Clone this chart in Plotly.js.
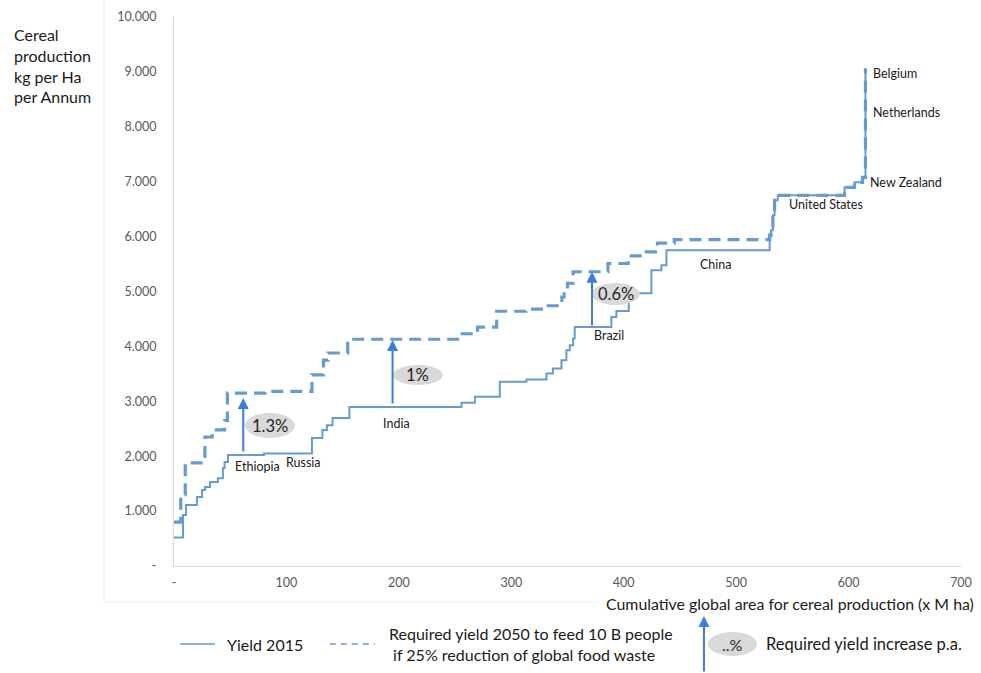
<!DOCTYPE html>
<html>
<head>
<meta charset="utf-8">
<script src="https://cdn.plot.ly/plotly-3.0.1.min.js"></script>
<style>html,body{margin:0;padding:0;background:#fff;}#chart{width:981px;height:673px;}</style>
</head>
<body>
<div id="chart"></div>
<script>
// Yield 2015 (step line): cumulative area (M ha) and yield (kg/ha)
var yieldX = [0, 8, 10.7, 20.4, 25, 27.6, 32, 39, 43.5, 45, 48, 80, 122.7, 132, 136, 141, 156, 255.7, 267.6, 289.8, 313.5, 331.3, 337, 344.6, 349, 352, 355, 356.4, 389, 393.5, 404.5, 424.6, 433.5, 438, 529.8, 531, 532.7, 534.2, 537, 596.4, 605.3, 612.4, 615];
var yieldY = [520, 930, 1110, 1256, 1383, 1438, 1529, 1600, 1784, 1893, 2020, 2050, 2330, 2475, 2566, 2694, 2894, 2972, 3082, 3355, 3398, 3507, 3598, 3749, 3931, 4022, 4144, 4355, 4537, 4646, 4969, 5387, 5478, 5751, 6024, 6115, 6388, 6661, 6752, 6898, 6989, 7080, 9064];
// Required yield 2050
var reqX = [0, 6, 10, 27.5, 34, 45, 47.5, 81, 122.7, 133, 137, 154.5, 254, 270, 287, 313, 330, 345, 347, 350, 355, 386, 404, 420, 430, 445, 529.8, 531, 532.7, 534.2, 537, 596.4, 605.3, 612.4, 615];
var reqY = [800, 1300, 1880, 2350, 2480, 2650, 3150, 3180, 3480, 3750, 3880, 4130, 4230, 4350, 4640, 4680, 4740, 4900, 5000, 5150, 5360, 5510, 5650, 5720, 5880, 5946, 6024, 6115, 6388, 6661, 6752, 6898, 6989, 7080, 9064];

var yTickVals = [0, 1000, 2000, 3000, 4000, 5000, 6000, 7000, 8000, 9000, 10000];
var yTickText = ['-', '1.000', '2.000', '3.000', '4.000', '5.000', '6.000', '7.000', '8.000', '9.000', '10.000'];
var xTickVals = [0, 100, 200, 300, 400, 500, 600, 700];
var xTickText = ['-', '100', '200', '300', '400', '500', '600', '700'];

// country labels
var countryNames = ['Ethiopia', 'Russia', 'India', 'Brazil', 'China', 'United States'];
var countryX = [74.7, 115.6, 198, 386.7, 481.8, 580];
var countryY = [1820, 1893, 2600, 4190, 5500, 6590];
var rightNames = ['New Zealand', 'Netherlands', 'Belgium'];
var rightX = [617, 619.6, 619.6];
var rightY = [6990, 8260, 8970];

// required yield increase per annum
var incLabels = ['1.3%', '1%', '0.6%'];
var incArrowX = [61.6, 194.4, 371.8];
var incFromY = [2060, 2933, 4359];
var incToY = [3060, 4116, 5360];
var incBoxX0 = [63.1, 194.7, 371.6];
var incBoxX1 = [107.6, 239.1, 414.2];
var incBoxY0 = [2331, 3297, 4754];
var incBoxY1 = [2787, 3661, 5155];

var lineColor = '#659bd2';
var arrowColor = '#3b7ddd';
var FONT = 'Lato, "Open Sans", sans-serif';

var traces = [
  {x: yieldX, y: yieldY, type: 'scatter', mode: 'lines', line: {shape: 'hv', color: lineColor, width: 2}, name: 'Yield 2015', hoverinfo: 'skip'},
  {x: reqX, y: reqY, type: 'scatter', mode: 'lines', line: {shape: 'hv', color: lineColor, width: 3.2, dash: '12px,7px'}, name: 'Required', hoverinfo: 'skip'}
];

var annotations = [];
var shapes = [];

countryNames.forEach(function (n, i) {
  annotations.push({x: countryX[i], y: countryY[i], xref: 'x', yref: 'y', text: n, showarrow: false, xanchor: 'center', yanchor: 'middle', font: {family: FONT, size: 12.5, color: '#1a1a1a'}});
});
rightNames.forEach(function (n, i) {
  annotations.push({x: rightX[i], y: rightY[i], xref: 'x', yref: 'y', text: n, showarrow: false, xanchor: 'left', yanchor: 'middle', font: {family: FONT, size: 12.5, color: '#1a1a1a'}});
});
incLabels.forEach(function (t, i) {
  shapes.push({type: 'circle', xref: 'x', yref: 'y', x0: incBoxX0[i], x1: incBoxX1[i], y0: incBoxY0[i], y1: incBoxY1[i], fillcolor: '#d9d9d9', line: {width: 0}, layer: 'above'});
  annotations.push({x: (incBoxX0[i] + incBoxX1[i]) / 2, y: (incBoxY0[i] + incBoxY1[i]) / 2, xref: 'x', yref: 'y', text: t, showarrow: false, xanchor: 'center', yanchor: 'middle', font: {family: FONT, size: 16.5, color: '#262626'}});
  annotations.push({x: incArrowX[i], y: incToY[i], ax: incArrowX[i], ay: incFromY[i], xref: 'x', yref: 'y', axref: 'x', ayref: 'y', text: '', showarrow: true, arrowhead: 2, arrowsize: 1.1, arrowwidth: 2, arrowcolor: arrowColor, standoff: 0});
});

// axis titles as free text
annotations.push({x: -0.2058, y: 0.9890, xref: 'paper', yref: 'paper', xanchor: 'left', yanchor: 'top', align: 'left', showarrow: false,
  text: 'Cereal<br>production<br>kg per Ha<br>per Annum', font: {family: FONT, size: 16, color: '#1a1a1a'}});
annotations.push({x: 0.7827, y: -0.0674, xref: 'paper', yref: 'paper', xanchor: 'center', yanchor: 'middle', showarrow: false,
  text: 'Cumulative global area for cereal production (x M ha)', font: {family: FONT, size: 15.9, color: '#1a1a1a'}});

// legend
shapes.push({type: 'line', xref: 'paper', yref: 'paper', x0: 0.0076, x1: 0.0521, y0: -0.1421, y1: -0.1421, line: {color: lineColor, width: 1.5}});
annotations.push({x: 0.0648, y: -0.1421, xref: 'paper', yref: 'paper', xanchor: 'left', yanchor: 'middle', showarrow: false, text: 'Yield 2015', font: {family: FONT, size: 16, color: '#1a1a1a'}});
shapes.push({type: 'line', xref: 'paper', yref: 'paper', x0: 0.198, x1: 0.2554, y0: -0.1421, y1: -0.1421, line: {color: lineColor, width: 1.5, dash: '6px,5px'}});
annotations.push({x: 0.271, y: -0.1421, xref: 'paper', yref: 'paper', xanchor: 'left', yanchor: 'middle', align: 'left', showarrow: false,
  text: 'Required yield 2050 to feed 10 B people<br> if 25% reduction of global food waste', font: {family: FONT, size: 16, color: '#1a1a1a'}});
shapes.push({type: 'circle', xref: 'paper', yref: 'paper', x0: 0.6785, x1: 0.7408, y0: -0.1639, y1: -0.1202, fillcolor: '#d9d9d9', line: {width: 0}});
annotations.push({x: 0.7097, y: -0.1421, xref: 'paper', yref: 'paper', xanchor: 'center', yanchor: 'middle', showarrow: false, text: '..%', font: {family: FONT, size: 16, color: '#262626'}});
annotations.push({x: 0.750, y: -0.1421, xref: 'paper', yref: 'paper', xanchor: 'left', yanchor: 'middle', showarrow: false, text: 'Required yield increase p.a.', font: {family: FONT, size: 16.5, color: '#1a1a1a'}});
annotations.push({x: 0.6734, y: -0.0911, ax: 0, ay: 57, xref: 'paper', yref: 'paper', axref: 'pixel', ayref: 'pixel', text: '', showarrow: true, arrowhead: 2, arrowsize: 1.1, arrowwidth: 2, arrowcolor: arrowColor, standoff: 0});

// faint chart-area border
shapes.push({type: 'line', xref: 'paper', yref: 'paper', x0: -0.0889, x1: 0.54, y0: -0.0656, y1: -0.0656, line: {color: '#ececec', width: 1}});
shapes.push({type: 'line', xref: 'paper', yref: 'paper', x0: -0.0889, x1: -0.0889, y0: -0.0656, y1: 1.03, line: {color: '#ececec', width: 1}});

var layout = {
  width: 981, height: 673,
  margin: {l: 174, r: 20, t: 17, b: 107, pad: 0},
  paper_bgcolor: '#ffffff', plot_bgcolor: '#ffffff',
  showlegend: false,
  font: {family: FONT, color: '#595959'},
  xaxis: {range: [0, 700], tickvals: xTickVals, ticktext: xTickText, showgrid: false, zeroline: false,
    showline: true, linecolor: '#d9d9d9', linewidth: 1, ticks: '', ticklabelstandoff: 5,
    tickfont: {family: FONT, size: 12.5, color: '#595959'}, fixedrange: true},
  yaxis: {range: [0, 10000], tickvals: yTickVals, ticktext: yTickText, showgrid: false, zeroline: false,
    showline: true, linecolor: '#d9d9d9', linewidth: 1, ticks: '', ticklabelstandoff: 14,
    tickfont: {family: FONT, size: 12.5, color: '#595959'}, fixedrange: true},
  annotations: annotations,
  shapes: shapes
};

Plotly.newPlot('chart', traces, layout, {displayModeBar: false, staticPlot: true});
</script>
</body>
</html>
